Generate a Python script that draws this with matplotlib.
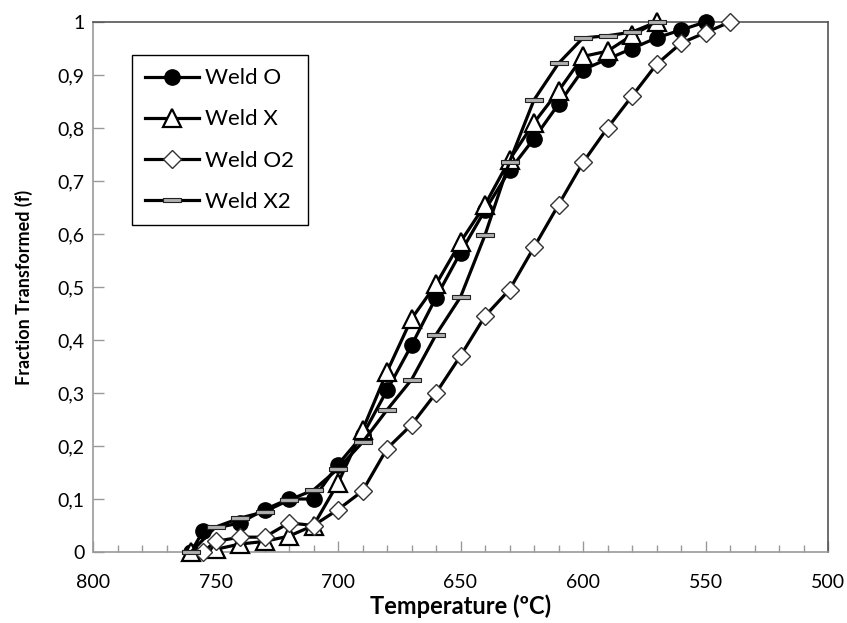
import numpy as np
import matplotlib
matplotlib.use("Agg")
import matplotlib.pyplot as plt
from matplotlib.path import Path
from matplotlib.ticker import MultipleLocator, FuncFormatter

# DATA

temp_o = [760, 755, 740, 730, 720, 710, 700, 690, 680, 670, 660, 650, 640, 630,
          620, 610, 600, 590, 580, 570, 560, 550]
frac_o = [0.0, 0.04, 0.055, 0.08, 0.10, 0.10, 0.165, 0.22, 0.305, 0.39, 0.48,
          0.565, 0.645, 0.72, 0.78, 0.845, 0.91, 0.93, 0.95, 0.97, 0.985, 1.0]

temp_x = [760, 750, 740, 730, 720, 710, 700, 690, 680, 670, 660, 650, 640, 630,
          620, 610, 600, 590, 580, 570]
frac_x = [0.0, 0.005, 0.015, 0.02, 0.03, 0.05, 0.13, 0.23, 0.34, 0.44, 0.505,
          0.585, 0.655, 0.74, 0.81, 0.87, 0.935, 0.945, 0.975, 1.0]

temp_o2 = [755, 750, 740, 730, 720, 710, 700, 690, 680, 670, 660, 650, 640, 630,
           620, 610, 600, 590, 580, 570, 560, 550, 540]
frac_o2 = [0.0, 0.02, 0.028, 0.028, 0.055, 0.05, 0.08, 0.115, 0.195, 0.24, 0.30,
           0.37, 0.445, 0.495, 0.575, 0.655, 0.735, 0.80, 0.86, 0.92, 0.96, 0.98, 1.0]

temp_x2 = [760, 750, 740, 730, 720, 710, 700, 690, 680, 670, 660, 650, 640, 630,
           620, 610, 600, 590, 580, 570]
frac_x2 = [0.0, 0.047, 0.064, 0.076, 0.098, 0.117, 0.157, 0.207, 0.268, 0.325,
           0.41, 0.481, 0.598, 0.736, 0.853, 0.922, 0.97, 0.974, 0.981, 1.0]

labels = ["Weld O", "Weld X", "Weld O2", "Weld X2"]

plt.rcParams['font.family'] = ['Lato', 'DejaVu Sans']

# flat bar marker for Weld X2 (Excel "dash")
dash = Path([(-1, -0.2), (1, -0.2), (1, 0.2), (-1, 0.2), (-1, -0.2)],
            [Path.MOVETO, Path.LINETO, Path.LINETO, Path.LINETO, Path.CLOSEPOLY])

fig = plt.figure(figsize=(8.47, 6.23), dpi=100)
ax = fig.add_axes([93/847, 1-552/623, (828-93)/847, (552-22)/623])

ax.plot(temp_o, frac_o, '-o', color='black', lw=2.3, ms=11, mfc='black',
        mec='black', label=labels[0], zorder=3, clip_on=False)
ax.plot(temp_x, frac_x, '-^', color='black', lw=2.3, ms=13, mfc='white',
        mec='black', mew=1.6, label=labels[1], zorder=4, clip_on=False)
ax.plot(temp_o2, frac_o2, '-D', color='black', lw=2.3, ms=9, mfc='white',
        mec='#333333', mew=1.0, label=labels[2], zorder=5, clip_on=False)
ax.plot(temp_x2, frac_x2, '-', color='black', lw=2.3, marker=dash, ms=13,
        mfc='#b0b0b0', mec='#222222', mew=0.8, label=labels[3], zorder=6,
        clip_on=False)

ax.set_xlim(800, 500)
ax.set_ylim(0, 1)
ax.xaxis.set_major_locator(MultipleLocator(50))
ax.xaxis.set_minor_locator(MultipleLocator(10))
ax.yaxis.set_major_locator(MultipleLocator(0.1))
ax.yaxis.set_major_formatter(FuncFormatter(
    lambda v, p: "0" if abs(v) < 1e-9 else ("1" if abs(v - 1) < 1e-9 else f"{v:.1f}".replace('.', ','))))

ax.tick_params(axis='both', which='major', direction='in', length=8, width=1,
               color='#999999', labelsize=14)
ax.tick_params(axis='x', which='major', pad=16)
ax.tick_params(axis='y', which='major', pad=6)
ax.tick_params(axis='x', which='minor', direction='in', length=5, width=1,
               color='#999999')
for s in ['left', 'bottom']:
    ax.spines[s].set_color('#999999')
    ax.spines[s].set_linewidth(1.2)
for s in ['top', 'right']:
    ax.spines[s].set_color('#555555')
    ax.spines[s].set_linewidth(1.2)

ax.set_xlabel("Temperature (ºC)", fontsize=17, fontweight='bold', labelpad=2)
ax.set_ylabel("Fraction Transformed (f)", fontsize=13, fontweight='bold', labelpad=18)

leg = ax.legend(loc='upper left', bbox_to_anchor=(132/847, 1-55/623),
                bbox_transform=fig.transFigure, borderaxespad=0, fontsize=16,
                handlelength=2.4, handletextpad=0.3, labelspacing=0.95,
                fancybox=False, edgecolor='black', framealpha=1,
                borderpad=0.6)
leg.get_frame().set_linewidth(1.0)

fig.savefig("out.png", dpi=100)
